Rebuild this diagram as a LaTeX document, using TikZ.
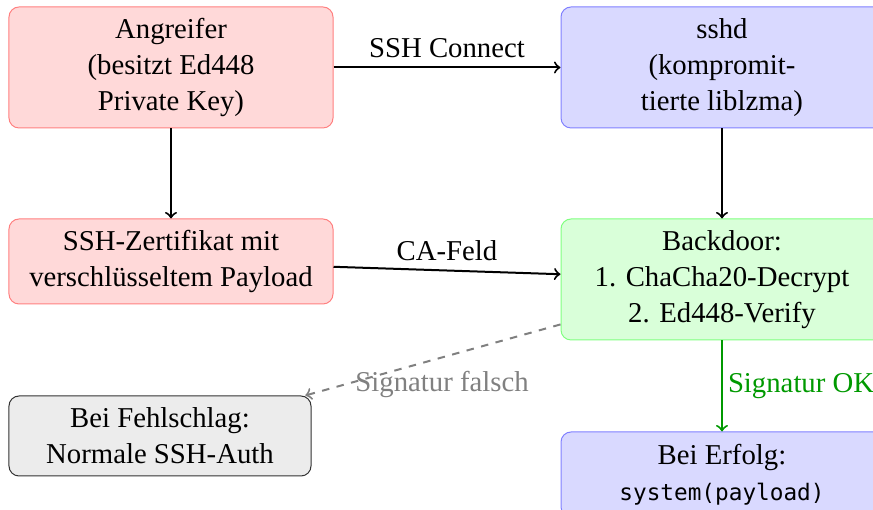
\documentclass[tikz,border=0pt]{standalone}
\usepackage{fontspec}
\setmainfont{Liberation Serif}
\setmonofont[Scale=0.79]{DejaVu Sans Mono}

\begin{document}
\begin{tikzpicture}[x=0.4pt, y=-0.4pt, font=\fontsize{11.5}{14.4}\selectfont,
            box/.style={draw, rounded corners=4pt, align=center, inner sep=0pt},
            angriff/.style={box, fill=red!15, draw=red!50},
            server/.style={box, fill=blue!15, draw=blue!50},
            tuer/.style={box, fill=green!15, draw=green!50},
            fehler/.style={box, fill=gray!15, draw=black!80},
            pfeil/.style={->, thick}]
            \useasboundingbox (0,0) rectangle (873,510);
            \clip (0,0) rectangle (873,510);

            \node[angriff, minimum width=129.6pt, minimum height=48.4pt] (angreifer) at (171,67.5)
                {Angreifer\\(besitzt Ed448\\Private Key)};
            \node[server, minimum width=128.8pt, minimum height=48.4pt] (sshd) at (722,67.5)
                {sshd\\(kompromit-\\tierte liblzma)};
            \node[angriff, minimum width=129.6pt, minimum height=34pt] (zert) at (171,261.5)
                {SSH-Zertifikat mit\\verschlüsseltem Payload};
            \node[tuer, minimum width=128.8pt, minimum height=48.4pt] (backdoor) at (722,279.5)
                {Backdoor:\\1. ChaCha20-Decrypt\\2. Ed448-Verify};
            \node[fehler, minimum width=120.8pt, minimum height=32pt] (fehl) at (160,436)
                {Bei Fehlschlag:\\Normale SSH-Auth};
            \node[server, minimum width=128.8pt, minimum height=34pt] (erfolg) at (722,474.5)
                {Bei Erfolg:\\\texttt{system(payload)}};

            \draw[pfeil] (angreifer) -- node[above] {SSH Connect} (sshd);
            \draw[pfeil] (angreifer) -- (zert);
            \draw[pfeil] (sshd) -- (backdoor);
            \draw[pfeil] (zert) -- node[above] {CA-Feld} (backdoor);
            \draw[pfeil, green!60!black] (backdoor) -- node[midway, right, inner xsep=2pt] {Signatur OK} (erfolg);
            \draw[pfeil, gray, dashed] (backdoor) -- node[pos=0.84, right] {Signatur falsch} (fehl);
        \end{tikzpicture}
\end{document}
